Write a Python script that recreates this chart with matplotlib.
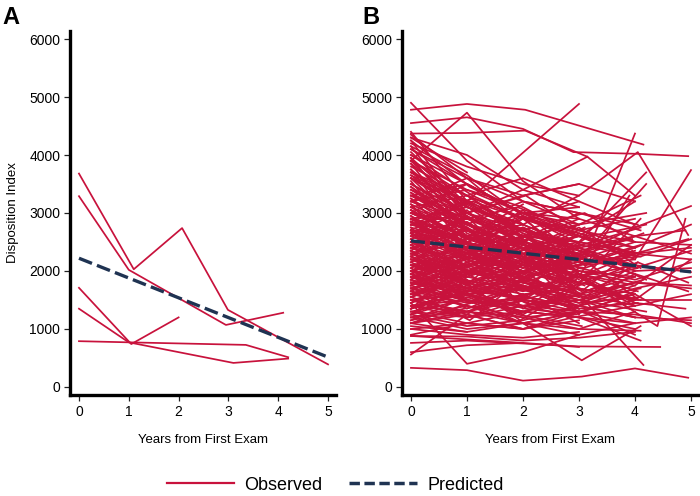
import matplotlib
matplotlib.use("Agg")
import matplotlib.pyplot as plt
from matplotlib.lines import Line2D

plt.rcParams['font.family'] = ['Liberation Sans', 'DejaVu Sans']

RED = '#c8123c'
NAVY = '#1f3352'

# ---------------- Panel A data ----------------
a_times = [
    [0, 1.1, 2.07, 2.99, 5.0],
    [0, 1.0, 2.95, 4.1],
    [0, 1.05, 2.0],
    [0, 1.0, 3.1, 4.2],
    [0, 1.0, 3.35, 4.2],
]
a_values = [
    [3680, 2030, 2740, 1330, 390],
    [3290, 2020, 1070, 1280],
    [1710, 740, 1200],
    [1350, 770, 415, 490],
    [790, 770, 726, 513],
]
a_pred_x = [0, 5]
a_pred_y = [2220, 515]

# ---------------- Panel B data ----------------
b_times = [
    [0, 1, 2, 3.05, 4, 4.95], [0, 1, 2, 2.9, 4.05, 4.95], [0, 1, 2, 3, 4.05, 4.95],
    [0, 1, 2, 3.1, 4, 5], [0, 1, 2, 3, 4, 5], [0, 1, 2, 3, 4, 5], [0, 1, 2, 3, 4, 5],
    [0, 1, 2, 3, 4, 5], [0, 1, 2, 3, 4, 5], [0, 1, 2, 3, 4, 5], [0, 1, 2, 3, 4, 5],
    [0, 1, 2, 3, 4, 5], [0, 1, 2, 3, 4, 5], [0, 1, 2, 3, 4, 5], [0, 1, 2, 3, 4, 5],
    [0, 1, 2, 3, 4.4, 4.9], [0, 1, 2, 3, 4, 5], [0, 1, 2, 3, 4, 5], [0, 1, 2, 3, 4, 5],
    [0, 1, 2, 3, 4, 5],
    [0, 1, 2.04, 4.15], [0, 1, 2.04, 3.15, 4], [0, 1, 2, 3.1, 4], [0, 1, 2, 3, 4.45],
    [0, 1, 2, 3, 4], [0, 1, 2, 3.05, 4.1], [0, 1, 2, 3, 4.15], [0, 1, 2, 3, 4.1],
    [0, 1, 2, 3, 4.2], [0, 1, 2, 3, 4], [0, 1, 2, 3, 4.2], [0, 1, 2, 3, 4],
    [0, 1, 2, 3, 4], [0, 1, 2, 3, 4.1], [0, 1, 2, 3, 4], [0, 1, 2, 3, 4],
    [0, 1, 2, 3, 4], [0, 1, 2, 3.2, 4.2], [0, 1, 2, 3, 4], [0, 1, 2, 3, 4.1],
    [0, 1, 2, 3, 4], [0, 1, 2, 3, 4], [0, 1, 2, 3, 4.1], [0, 1, 2, 3, 4],
    [0, 1, 2, 3, 4], [0, 1, 2, 3, 3.9], [0, 1, 2, 3, 4], [0, 1, 2, 3, 4],
    [0, 1, 2, 3, 4.2], [0, 1, 2, 3, 4.1],
    [0, 1, 2, 3], [0, 1, 2, 3], [0, 1, 2, 3], [0, 1, 2, 3.15], [0, 1, 2, 3],
    [0, 1, 2, 3], [0, 1, 2, 3], [0, 1, 2, 3], [0, 1, 2, 3], [0, 1, 2, 3],
    [0, 1, 2, 3], [0, 1, 2, 3], [0, 1, 2, 3], [0, 1, 2, 3], [0, 1, 2, 3],
    [0, 1, 2, 3], [0, 1, 2, 3], [0, 1, 2, 3], [0, 1, 2, 3], [0, 1, 2, 3],
    [0, 1, 2, 3], [0, 1, 2, 3], [0, 1, 2, 3], [0, 1, 2, 3], [0, 1, 2, 3],
    [0, 1, 2, 3], [0, 1, 2, 3], [0, 1, 2, 3], [0, 1, 2, 3], [0, 1, 2, 3],
    [0, 1, 2, 3], [0, 1, 2, 3], [0, 1, 2, 3], [0, 1, 2, 3], [0, 1, 2, 3],
    [0, 1, 2], [0, 1, 2], [0, 1, 2], [0, 1, 2], [0, 1, 2], [0, 1, 2], [0, 1, 2],
    [0, 1, 2], [0, 1, 2], [0, 1, 2], [0, 1, 2], [0, 1, 2], [0, 1, 2], [0, 1, 2],
    [0, 1, 2], [0, 1], [0, 1], [0, 1], [0, 1], [0, 1], [0, 1], [0, 1], [0, 1],
    [0, 1, 2],
    [0, 0.9, 2.1, 2.9], [0, 1.1, 1.9, 3.1], [0, 0.9, 2.1, 3.0, 4.1], [0, 1.1, 2.0, 2.9],
    [0, 0.95, 2.05, 3.1, 4.0], [0, 1.05, 1.95, 3.0], [0, 0.9, 2.0, 3.1], [0, 1.1, 2.1, 3.0, 4.05],
    [0, 1.0, 2.1, 2.9], [0, 0.95, 1.9, 3.05], [0, 1.05, 2.1, 3.0, 3.95], [0, 1.0, 1.9, 2.95],
    [0, 0.9, 2.0, 3.0, 4.1], [0, 1.1, 2.05, 2.9], [0, 1.0, 2.0, 3.1, 4.0], [0, 0.95, 2.1, 3.0],
    [0, 1.05, 1.95, 3.05, 4.15], [0, 1.0, 2.0, 2.9], [0, 0.9, 2.1, 3.1], [0, 1.1, 2.0, 3.0, 4.0],
]
b_values = [
    [330, 290, 110, 180, 320, 160], [4550, 4650, 4450, 4050, 4020, 3980], [2900, 3100, 2800, 3300, 4050, 2620],
    [2400, 2200, 2600, 2100, 2200, 3740], [3100, 2700, 2500, 2300, 2750, 3120], [2600, 2300, 2000, 1800, 1600, 1050], [1800, 1700, 1500, 1400, 1200, 1150],
    [2200, 2000, 1900, 2100, 2300, 2400], [1500, 1600, 1700, 1500, 1800, 1750], [3500, 3000, 2600, 2500, 2300, 2200], [2000, 1800, 1600, 1700, 1500, 1500],
    [1200, 1300, 1500, 1400, 1700, 1900], [2800, 2500, 2200, 2000, 1800, 1700], [1600, 1400, 1200, 1300, 1250, 1100], [3800, 3300, 2900, 2700, 2500, 2450],
    [2500, 2400, 2100, 1900, 1050, 2900], [1900, 2100, 1800, 1600, 2000, 2050], [2700, 2600, 2400, 2300, 2100, 1980], [1400, 1500, 1300, 1200, 1100, 1200],
    [3200, 2900, 2700, 2400, 2600, 2300],
    [4780, 4880, 4780, 4180], [4370, 4380, 4420, 3970, 3300], [1700, 2000, 2300, 2200, 4370], [760, 800, 750, 700, 690],
    [1450, 400, 600, 900, 1100], [1700, 1500, 1100, 460, 1050], [2500, 2200, 1900, 1600, 380], [3200, 2800, 2600, 2500, 2300],
    [1800, 1600, 1700, 1500, 1300], [2900, 2600, 2300, 2000, 1900], [3400, 3000, 2700, 2500, 3700], [2300, 2500, 2200, 2400, 2100],
    [1300, 1200, 1400, 1600, 1800], [4100, 3600, 3200, 3000, 2700], [2000, 2300, 2500, 2200, 2500], [1100, 1300, 1200, 1000, 1300],
    [3300, 3500, 3000, 2600, 3200], [2700, 2400, 2900, 2600, 2800], [1700, 1500, 1300, 1200, 1000], [2500, 2000, 1800, 1500, 1700],
    [3000, 2800, 2400, 2600, 2200], [1500, 1700, 1900, 2100, 2400], [2100, 1800, 2000, 1700, 1500], [3700, 3200, 2800, 2400, 2000],
    [1900, 2200, 1700, 1400, 1600], [2400, 2100, 2300, 1900, 3300], [1250, 1050, 1150, 1400, 1200], [2800, 3000, 3300, 3500, 3200],
    [4000, 3500, 3000, 2800, 3000], [1000, 1100, 1300, 1200, 800],
    [4900, 3900, 3200, 2800], [3900, 4730, 3550, 2900], [2700, 3200, 4040, 4880], [2800, 3000, 3400, 3970], [3600, 3100, 2700, 2400],
    [2300, 2000, 1800, 1700], [1600, 1800, 1500, 1300], [3300, 3000, 2500, 2900], [2000, 2200, 2400, 2000], [1200, 1000, 1100, 900],
    [2700, 2300, 2000, 2200], [4200, 3800, 3500, 3300], [1800, 1600, 1400, 1500], [2500, 2700, 2300, 2500], [3000, 2600, 2800, 2400],
    [1400, 1300, 1600, 1100], [2100, 1900, 1700, 1900], [3500, 2900, 2600, 2200], [1700, 2000, 1800, 2100], [2400, 2000, 2200, 1800],
    [3200, 3400, 3000, 3100], [1000, 900, 850, 950], [2900, 2500, 2100, 1900], [1500, 1200, 1300, 1600], [2200, 2400, 2600, 2800],
    [3900, 3400, 3100, 2600], [1900, 1700, 2000, 1800], [2600, 2200, 1900, 1600], [1300, 1500, 1400, 1200], [3400, 2800, 3200, 3000],
    [2000, 1600, 1400, 1300], [4300, 4000, 3400, 3100], [1100, 1250, 1000, 1150], [2800, 2700, 2500, 2300], [1650, 1450, 1750, 1550],
    [4100, 3500, 3000], [2300, 2600, 2200], [1800, 1500, 1300], [3300, 2900, 2500], [2700, 2400, 2700], [1200, 1400, 1100], [3700, 3100, 2800],
    [2000, 1700, 1900], [1500, 1300, 1600], [2900, 2500, 2100], [880, 820, 760], [560, 1250, 1000], [2500, 2100, 2400], [3900, 3300, 2700],
    [1600, 2000, 1700], [3000, 2600], [2200, 1900], [4300, 3700], [1400, 1600], [2700, 2300], [1900, 1500], [3600, 3000], [1100, 950],
    [2100, 2300, 2000],
    [3100, 2600, 2200, 1900], [2350, 1950, 2150, 1750], [1550, 1850, 1650, 1450, 1550], [4000, 3300, 2900, 2600],
    [2650, 2250, 2050, 1650, 1900], [1950, 2250, 1850, 1600], [3350, 2750, 2450, 2250], [1750, 1450, 1550, 1350, 1450],
    [2850, 2350, 2550, 2050], [1350, 1650, 1250, 1050], [3650, 3150, 2650, 2350, 2550], [2150, 1750, 1550, 1850],
    [2550, 2850, 2450, 2150, 2250], [1850, 1550, 1350, 1250], [3050, 2550, 2250, 2050, 2350], [1150, 1350, 1550, 1350],
    [2450, 2050, 1750, 1550, 1850], [4150, 3650, 2950, 2650], [1950, 1650, 1850, 1550], [2750, 2450, 2150, 1950, 1750],
]

# additional (more zig-zag) panel B trajectories
b_extra_times = [
    [0, 1, 2, 3], [0, 0.9, 2, 3.1], [0, 1.1, 2, 2.9], [0, 1, 2.1, 3], [0, 1, 1.9, 3],
    [0, 0.95, 2, 3.05], [0, 1, 2, 3], [0, 1.05, 2.1, 3], [0, 1, 2, 2.95], [0, 0.9, 1.95, 3],
    [0, 1, 2, 3.1], [0, 1.1, 2.05, 3], [0, 1, 2, 3], [0, 0.95, 1.9, 2.9], [0, 1, 2.1, 3.05],
    [0, 1.05, 2, 3], [0, 1, 2, 3], [0, 0.9, 2.05, 3.1], [0, 1.1, 2, 3], [0, 1, 1.95, 2.95],
    [0, 1, 2, 3, 4], [0, 0.95, 2.05, 3, 4.1], [0, 1.05, 2, 3.05, 3.95], [0, 1, 2.1, 3, 4.05], [0, 0.9, 2, 3.1, 4],
    [0, 1.1, 1.95, 3, 4.15], [0, 1, 2, 2.9, 4], [0, 1, 2.05, 3.05, 4.1], [0, 0.95, 2, 3, 3.9], [0, 1.05, 2.1, 3.1, 4.05],
    [0, 1, 2, 3, 4.2], [0, 0.9, 1.9, 3, 4], [0, 1.1, 2, 3.05, 4.1], [0, 1, 2.05, 2.95, 4], [0, 1, 2, 3.1, 4.05],
    [0, 1, 2], [0, 0.9, 2.1], [0, 1.1, 2], [0, 1, 1.9], [0, 0.95, 2.05], [0, 1.05, 2], [0, 1, 2.1],
    [0, 0.9, 1.95], [0, 1.1, 2.05], [0, 1, 2], [0, 0.95, 1.9], [0, 1.05, 2.1], [0, 1, 2], [0, 0.9, 2], [0, 1.1, 1.95],
    [0, 1], [0, 0.9], [0, 1.1], [0, 1], [0, 0.95], [0, 1.05], [0, 1], [0, 0.9], [0, 1.1], [0, 1],
    [0, 1, 2, 3, 4, 5], [0, 1, 2, 3, 4, 4.95], [0, 1, 2, 3, 4.1, 5], [0, 1, 2, 3, 4, 4.9], [0, 1, 2, 3, 4, 5],
    [0, 1, 2, 3, 4, 5], [0, 1, 2, 3, 4.05, 4.95],
    [0, 1, 2, 3], [0, 1, 2], [0, 1, 2, 3], [0, 1], [0, 1, 2, 3], [0, 1, 2], [0, 1, 2, 3, 4],
]
b_extra_values = [
    [2450, 1750, 2650, 1950], [3150, 2250, 2950, 1850], [1850, 2650, 1650, 2350], [2750, 1650, 2450, 1550], [1350, 2150, 1450, 2050],
    [3550, 2450, 3050, 2150], [2250, 2950, 1950, 2650], [1650, 1150, 1950, 1350], [2950, 2050, 2750, 1650], [1250, 1850, 1150, 1750],
    [3850, 2650, 2250, 2750], [2050, 1450, 2250, 1250], [2650, 3050, 2150, 2450], [1450, 1950, 2450, 1750], [3250, 2350, 1850, 2450],
    [1750, 2450, 1350, 1950], [4050, 3150, 2650, 2350], [2350, 1550, 1950, 2550], [2850, 3250, 2550, 1850], [1550, 1250, 1850, 2150],
    [2150, 2750, 1850, 2250, 1550], [3450, 2850, 2350, 2750, 2050], [1950, 1450, 2150, 1650, 2350], [2550, 1950, 2550, 1950, 1650], [1450, 1750, 1250, 1850, 1450],
    [2950, 2350, 1950, 2250, 2650], [1650, 2150, 1750, 1350, 1950], [3750, 2950, 2450, 2150, 2450], [2250, 1850, 1650, 1950, 1350], [1250, 1550, 1850, 1550, 2150],
    [2650, 2250, 2750, 2350, 1850], [1850, 2350, 2050, 2650, 2250], [3150, 2650, 2950, 2450, 2750], [1550, 1950, 1450, 1250, 1650], [2450, 2850, 2250, 1850, 2050],
    [2850, 2150, 2550], [1950, 2550, 1850], [3450, 2650, 3150], [2250, 1750, 2150], [1650, 2250, 1950], [3050, 2450, 2050], [1350, 1750, 1450],
    [2650, 2050, 2350], [3850, 3050, 2450], [1850, 1350, 1750], [2350, 2950, 2550], [4250, 3450, 2950], [1150, 1550, 1250], [2050, 2450, 1550], [3350, 2750, 2250],
    [2550, 1850], [1750, 2350], [3250, 2550], [2150, 2750], [3950, 3150], [1550, 1950], [2850, 2250], [1250, 1650], [3650, 2850], [2350, 1750],
    [2250, 1950, 2450, 2050, 1850, 2150], [1750, 2150, 1850, 2250, 1950, 1650], [2650, 2350, 2050, 2450, 2250, 2550], [1350, 1650, 1550, 1950, 1450, 1350], [3050, 2550, 2750, 2350, 2050, 2350],
    [1950, 1650, 1750, 1450, 1750, 2450], [2850, 2450, 2150, 1750, 2150, 1800],
    [4400, 3200, 2600, 2300], [4250, 3000, 2500], [3950, 2800, 2400, 2000], [4150, 2900], [3750, 2500, 2900, 2200], [4350, 3600, 2800], [3600, 2700, 2200, 1900, 2100],
]

# further panel B trajectories (lower band and later visits)
b_more_times = [
    [0, 1, 2, 3, 4], [0, 1, 2, 3], [0, 1, 2, 3, 4.1], [0, 1, 2.1, 3, 4.1], [0, 0.9, 2, 3.1, 4.2],
    [0, 1, 2, 3, 4, 4.9], [0, 1.1, 2, 3, 4], [0, 1, 2, 3.05, 4], [0, 1, 1.9, 3, 4], [0, 1, 2, 3, 4, 5],
    [0, 1, 2.05, 3, 4], [0, 0.95, 2, 3, 4.1], [0, 1, 2, 2.9, 4], [0, 1, 2, 3, 4, 5], [0, 1.05, 2, 3.1, 4],
    [0, 1, 2, 3, 4], [0, 1, 2.1, 3, 4.05], [0, 0.9, 2, 3, 4], [0, 1, 2, 3], [0, 1.1, 2, 3, 4],
    [0, 1, 2, 3], [0, 1, 2.05, 3, 4], [0, 1, 2, 3, 4, 5], [0, 0.95, 2, 3.05, 4], [0, 1, 2, 3, 4],
    [0, 1, 1.95, 3], [0, 1.05, 2, 3, 4], [0, 1, 2, 3.1, 4], [0, 1, 2, 3, 4, 4.95], [0, 1, 2, 3],
]
b_more_values = [
    [880, 870, 800, 850, 950], [600, 720, 760, 690], [1050, 950, 1100, 1000, 970], [2300, 1900, 2400, 2800, 3300], [2900, 2400, 2000, 2300, 3500],
    [2100, 1700, 2000, 2300, 2600, 2700], [3300, 2700, 3000, 2900, 2600], [1700, 1400, 1100, 1300, 900], [2600, 2900, 3100, 2700, 2400], [1500, 1300, 1100, 1300, 1500, 2200],
    [3100, 3300, 2900, 3200, 2800], [2000, 2500, 2200, 1800, 2900], [1300, 1100, 1000, 1200, 1400], [2400, 2700, 2300, 2600, 2400, 2800], [3600, 3200, 2700, 3000, 2500],
    [1900, 1600, 1300, 1500, 1200], [2700, 2300, 2600, 3000, 2800], [1100, 1400, 1700, 1300, 1600], [3200, 3600, 3300, 3500], [2800, 3200, 2900, 2600, 2300],
    [900, 1100, 1000, 1300], [3900, 3000, 3300, 2700, 2900], [1800, 2000, 1700, 1900, 1400, 1600], [2200, 1800, 2100, 1600, 1400], [1600, 1900, 2200, 1900, 2300],
    [3000, 3500, 3000, 2700], [2500, 2000, 1700, 1300, 1100], [1400, 1200, 1500, 1800, 1500], [3000, 2600, 2400, 2100, 2300, 2550], [3700, 3300, 3600, 3200],
]

b_pred_x = [0, 5]
b_pred_y = [2520, 1985]

x_ticks = [0, 1, 2, 3, 4, 5]
y_ticks = [0, 1000, 2000, 3000, 4000, 5000, 6000]

fig = plt.figure(figsize=(7.0, 4.96), dpi=100)
axA = fig.add_axes([70 / 700, 1 - 395 / 496, 266 / 700, 364 / 496])
axB = fig.add_axes([402 / 700, 1 - 395 / 496, 296 / 700, 364 / 496])

dash = (0, (4.2, 1.6))

panels = [
    (axA, [(a_times, a_values)], a_pred_x, a_pred_y, (-0.18, 5.16)),
    (axB, [(b_times, b_values), (b_extra_times, b_extra_values), (b_more_times, b_more_values)],
     b_pred_x, b_pred_y, (-0.16, 5.125)),
]
for ax, groups, px, py, xl in panels:
    for tt, vv in groups:
        for t, v in zip(tt, vv):
            ax.plot(t, v, color=RED, lw=1.25, zorder=2)
    ax.plot(px, py, color=NAVY, lw=2.4, linestyle=dash, zorder=3)
    ax.set_xlim(*xl)
    ax.set_ylim(-138, 6138)
    ax.set_xticks(x_ticks)
    ax.set_yticks(y_ticks)
    for s in ('top', 'right'):
        ax.spines[s].set_visible(False)
    for s in ('left', 'bottom'):
        ax.spines[s].set_linewidth(2.4)
        ax.spines[s].set_color('black')
    ax.tick_params(axis='both', direction='out', length=4, width=0.9,
                   labelsize=10, pad=3, colors='#222222')
    ax.tick_params(axis='both', labelcolor='black')
    ax.set_xlabel('Years from First Exam', fontsize=9.5, labelpad=11)

axA.set_ylabel('Disposition Index', fontsize=9.5, labelpad=7)

fig.text(2 / 700, 1 - 17 / 496, 'A', fontsize=17, fontweight='bold', va='center', ha='left')
fig.text(362 / 700, 1 - 17 / 496, 'B', fontsize=17, fontweight='bold', va='center', ha='left')

handles = [Line2D([], [], color=RED, lw=1.6),
           Line2D([], [], color=NAVY, lw=2.5, linestyle=(0, (3.0, 1.3)))]
fig.legend(handles, ['Observed', 'Predicted'], loc='center',
           bbox_to_anchor=(335 / 700, 1 - 485 / 496), ncol=2, frameon=False,
           fontsize=13, handlelength=3.75, handletextpad=0.55, columnspacing=1.5)

fig.savefig('out.png', dpi=100)
